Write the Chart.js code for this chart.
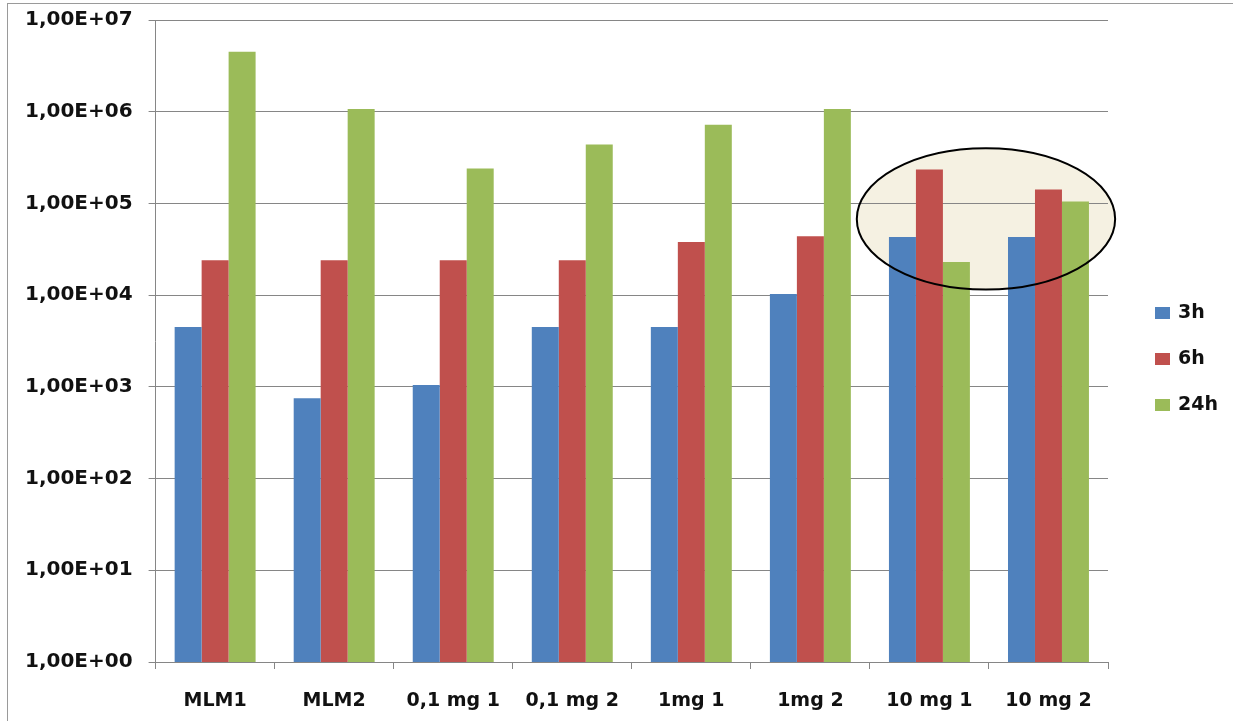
<!DOCTYPE html>
<html>
<head>
<meta charset="utf-8">
<script src="https://cdn.jsdelivr.net/npm/chart.js@4"></script>
<style>
  html, body { margin: 0; padding: 0; background: #fff; }
  #wrap { position: relative; width: 1233px; height: 721px; }
  #legenda { position: absolute; left: 1155px; top: 300px; font: bold 19px "DejaVu Sans", sans-serif; color: #111; }
  #legenda div { height: 46px; display: flex; align-items: flex-start; }
  #legenda span.caixa { display: inline-block; width: 15px; height: 12px; margin-top: 7px; margin-right: 8px; }
</style>
</head>
<body>
<div id="wrap">
  <canvas id="grafico" width="1233" height="721"></canvas>
  <div id="legenda"></div>
</div>
<script>
const categorias = ["MLM1", "MLM2", "0,1 mg 1", "0,1 mg 2", "1mg 1", "1mg 2", "10 mg 1", "10 mg 2"];
const serie3h = [4500, 750, 1050, 4500, 4500, 10300, 43000, 43000];
const serie6h = [24000, 24000, 24000, 24000, 38000, 44000, 235000, 142000];
const serie24h = [4500000, 1070000, 240000, 440000, 720000, 1070000, 23000, 105000];
const valoresY = [1, 10, 100, 1000, 10000, 100000, 1000000, 10000000];
const rotulosY = ["1,00E+00", "1,00E+01", "1,00E+02", "1,00E+03", "1,00E+04", "1,00E+05", "1,00E+06", "1,00E+07"];
const nomesSeries = ["3h", "6h", "24h"];
const cores = ["#4F81BD", "#C0504D", "#9BBB59"];

// elipse de destaque em volta dos grupos "10 mg" (em unidades das escalas)
const destaque = { xMin: 5.39, xMax: 7.56, yMin: 11500, yMax: 400000 };

const fonte = { family: "'DejaVu Sans', sans-serif", weight: "bold" };

function caminhoElipse(chart) {
  const x = chart.scales.x, y = chart.scales.y;
  const x1 = x.getPixelForValue(destaque.xMin), x2 = x.getPixelForValue(destaque.xMax);
  const y1 = y.getPixelForValue(destaque.yMax), y2 = y.getPixelForValue(destaque.yMin);
  const ctx = chart.ctx;
  ctx.beginPath();
  ctx.ellipse((x1 + x2) / 2, (y1 + y2) / 2, (x2 - x1) / 2, (y2 - y1) / 2, 0, 0, Math.PI * 2);
  return ctx;
}

const pluginExtras = {
  id: "extras",
  beforeDraw(chart) {
    const ctx = chart.ctx;
    ctx.save();
    ctx.strokeStyle = "#9a9a9a";
    ctx.lineWidth = 1;
    ctx.strokeRect(7.5, 3.5, 1400, 900);
    caminhoElipse(chart);
    ctx.fillStyle = "#F5F1E2";
    ctx.fill();
    ctx.restore();
  },
  afterDatasetsDraw(chart) {
    const ctx = chart.ctx;
    ctx.save();
    caminhoElipse(chart);
    ctx.strokeStyle = "#000";
    ctx.lineWidth = 2;
    ctx.stroke();
    ctx.restore();
  }
};

const series = [serie3h, serie6h, serie24h];

new Chart(document.getElementById("grafico").getContext("2d"), {
  type: "bar",
  data: {
    labels: categorias,
    datasets: series.map((dados, i) => ({
      label: nomesSeries[i],
      data: dados,
      backgroundColor: cores[i],
      borderWidth: 0,
      categoryPercentage: 0.68,
      barPercentage: 1.0
    }))
  },
  options: {
    responsive: false,
    animation: false,
    layout: { padding: { left: 9, right: 125, top: 20, bottom: 0 } },
    plugins: {
      legend: { display: false },
      tooltip: { enabled: false }
    },
    scales: {
      x: {
        afterFit: (escala) => { escala.height = 59; },
        grid: { offset: true, drawOnChartArea: false, drawTicks: true, tickLength: 7, color: "#868686" },
        border: { color: "#868686" },
        ticks: { color: "#111", font: { ...fonte, size: 19 }, padding: 21, maxRotation: 0, autoSkip: false }
      },
      y: {
        type: "logarithmic",
        min: 1,
        max: 10000000,
        afterBuildTicks: (escala) => { escala.ticks = valoresY.map(v => ({ value: v })); },
        afterFit: (escala) => { escala.paddingTop = 0; escala.paddingBottom = 0; },
        grid: { color: "#868686", tickLength: 7 },
        border: { color: "#868686" },
        ticks: {
          color: "#111",
          font: { ...fonte, size: 20 },
          padding: 16,
          callback: (v, i) => rotulosY[i]
        }
      }
    }
  },
  plugins: [pluginExtras]
});

const legenda = document.getElementById("legenda");
nomesSeries.forEach((nome, i) => {
  const linha = document.createElement("div");
  linha.innerHTML = `<span class="caixa" style="background:${cores[i]}"></span><span>${nome}</span>`;
  legenda.appendChild(linha);
});
</script>
</body>
</html>
